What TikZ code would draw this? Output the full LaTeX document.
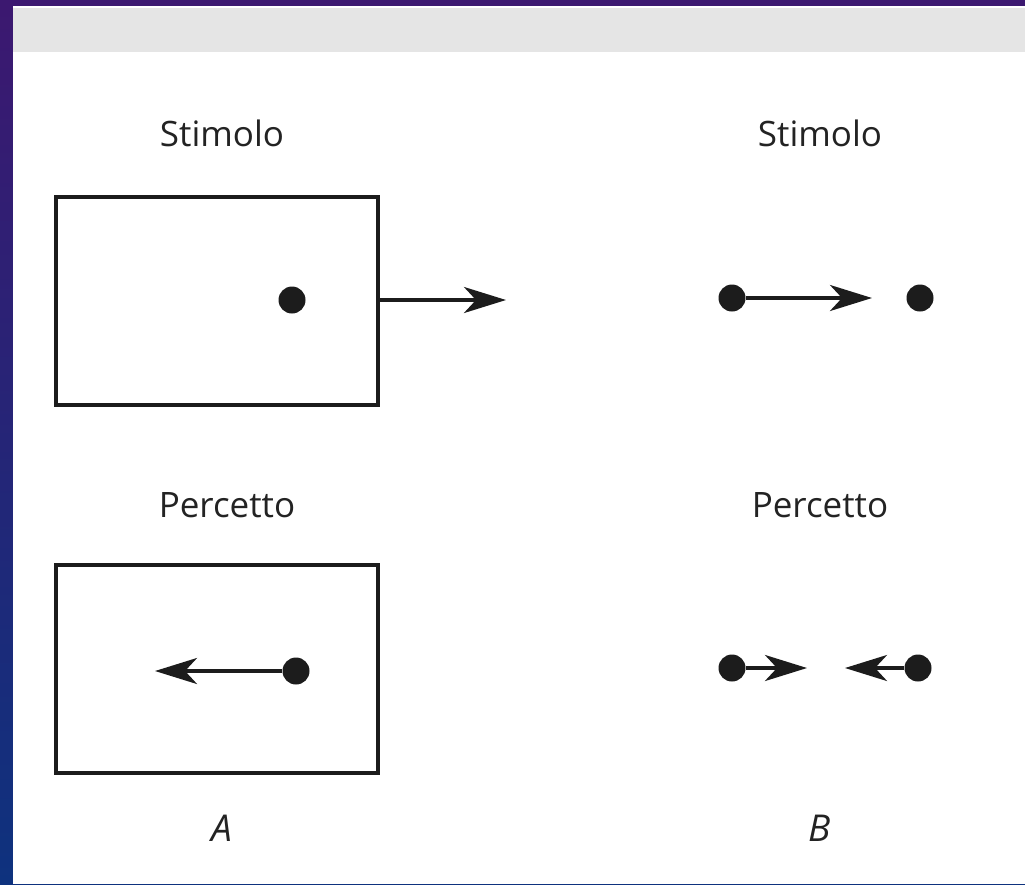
\documentclass[tikz,border=0pt]{standalone}
\usepackage{fontspec}
\setmainfont{Open Sans}
\usetikzlibrary{arrows.meta}
\definecolor{frametop}{RGB}{60,24,112}
\definecolor{framebot}{RGB}{14,50,126}
\definecolor{band}{RGB}{229,229,229}
\definecolor{ink}{RGB}{28,28,28}
\definecolor{label}{RGB}{35,35,35}
\begin{document}
\begin{tikzpicture}[x=1pt,y=-1pt,
  label/.style={text=label,font=\fontsize{35}{40}\selectfont,inner sep=0pt},
  panelletter/.style={text=label,font=\itshape\fontsize{37}{42}\selectfont,inner sep=0pt},
  frame/.style={draw=ink,line width=4pt,minimum width=322pt,minimum height=208pt,inner sep=0pt},
  blob/.style={circle,fill=ink,minimum size=27pt,inner sep=0pt},
  motion/.style={draw=ink,line width=3.5pt,-{Stealth[length=42pt,width=26pt,inset=12pt]}}]
  % slide backdrop and panel
  \useasboundingbox (0,0) rectangle (1025,884);
  \shade[top color=frametop,bottom color=framebot] (0,0) rectangle (1025,884);
  \fill[white] (13,6) rectangle (1025,884);
  \fill[band] (13,8) rectangle (1025,52);

  % panel A: stimulus
  \node[label] (stimA) at (222,133) {Stimolo};
  \node[frame] (boxA1) at (217,301) {};
  \node[blob] (dotA1) at (292,300) {};
  \coordinate (tipA1) at (506,300);
  \draw[motion] (boxA1.east |- dotA1) -- (tipA1);

  % panel A: percept
  \node[label] (percA) at (227,505) {Percetto};
  \node[frame] (boxA2) at (217,669) {};
  \node[blob] (dotA2) at (296,671) {};
  \coordinate (tipA2) at (155,671);
  \draw[motion] (dotA2) -- (tipA2);
  \node[panelletter] (letA) at (222,828) {A};

  % panel B: stimulus
  \node[label] (stimB) at (820,133) {Stimolo};
  \node[blob] (dotB1) at (732,298) {};
  \node[blob] (dotB2) at (920,298) {};
  \coordinate (tipB1) at (872,298);
  \draw[motion] (dotB1) -- (tipB1);

  % panel B: percept
  \node[label] (percB) at (820,505) {Percetto};
  \node[blob] (dotB3) at (732,668) {};
  \node[blob] (dotB4) at (918,668) {};
  \coordinate (tipB3) at (807,668);
  \coordinate (tipB4) at (845,668);
  \draw[motion] (dotB3) -- (tipB3);
  \draw[motion] (dotB4) -- (tipB4);
  \node[panelletter] (letB) at (820,828) {B};
\end{tikzpicture}
\end{document}
